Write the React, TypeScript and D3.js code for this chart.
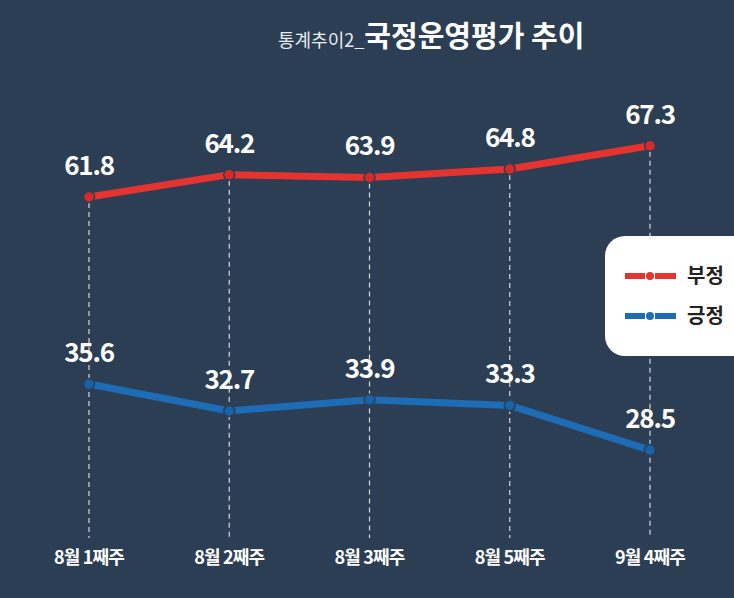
import React from "react";
import * as d3 from "d3";

const categories = ["8월 1째주", "8월 2째주", "8월 3째주", "8월 5째주", "9월 4째주"];
const negativeValues = [61.8, 64.2, 63.9, 64.8, 67.3]; // 부정
const positiveValues = [35.6, 32.7, 33.9, 33.3, 28.5]; // 긍정
const seriesNames = ["부정", "긍정"];
const titleSmall = "통계추이2_";
const titleLarge = "국정운영평가 추이";

const W = 734;
const H = 598;
const BG = "#2c3e54";
const RED = "#e5332f";
const BLUE = "#1d6db6";
const FONT = "'Noto Sans CJK KR', 'Noto Sans', sans-serif";

export default function App() {
  const x = d3.scalePoint<string>().domain(categories).range([89, 650]);
  // broken axis: two panels with the same px per unit
  const yTop = d3.scaleLinear().domain([60, 70]).range([213.7, 120.7]);
  const yBot = d3.scaleLinear().domain([25, 40]).range([482.6, 343.1]);

  const series = [
    { name: seriesNames[0], values: negativeValues, y: yTop, color: RED, dot: "#d42a28" },
    { name: seriesNames[1], values: positiveValues, y: yBot, color: BLUE, dot: "#1a62a6" },
  ];

  const gridBottom = 538;

  return (
    <svg width={W} height={H} style={{ position: "absolute", left: 0, top: 0, display: "block" }}>
      <rect x={0} y={0} width={W} height={H} fill={BG} />
      {/* title */}
      <text x={278} y={47} fontFamily={FONT} fill="#e8ecf0">
        <tspan fontSize={18} fontWeight={400}>{titleSmall}</tspan>
        <tspan fontSize={29} fontWeight={700} fill="#ffffff">{titleLarge}</tspan>
      </text>

      {/* dashed guides */}
      {categories.map((c, i) => (
        <line
          key={"g" + c}
          x1={x(c)}
          x2={x(c)}
          y1={yTop(negativeValues[i]) + 6}
          y2={gridBottom}
          stroke="rgba(255,255,255,0.8)"
          strokeWidth={1.2}
          strokeDasharray="5,4"
        />
      ))}

      {/* legend box */}
      <g>
        <rect x={605} y={236} width={160} height={120} rx={20} ry={20} fill="#ffffff" />
        {series.map((s, i) => {
          const ly = 276 + i * 40;
          return (
            <g key={"lg" + s.name}>
              <rect x={625} y={ly - 3} width={20} height={6} fill={s.color} />
              <rect x={655} y={ly - 3} width={21} height={6} fill={s.color} />
              <circle cx={650} cy={ly} r={4} fill={s.color} />
              <text
                x={687}
                y={ly + 7}
                fontFamily={FONT}
                fontSize={20}
                fontWeight={700}
                fill="#222222"
              >
                {s.name}
              </text>
            </g>
          );
        })}
      </g>

      {/* lines */}
      {series.map((s) => {
        const line = d3
          .line<number>()
          .x((_, i) => x(categories[i]) as number)
          .y((v) => s.y(v));
        return (
          <g key={"s" + s.name}>
            <path
              d={line(s.values) || ""}
              fill="none"
              stroke={s.color}
              strokeWidth={7}
              strokeLinejoin="round"
            />
            {s.values.map((v, i) => (
              <circle
                key={i}
                cx={x(categories[i])}
                cy={s.y(v)}
                r={5.5}
                fill={s.dot}
                stroke={BG}
                strokeWidth={1.5}
              />
            ))}
            {s.values.map((v, i) => (
              <text
                key={"t" + i}
                x={x(categories[i])}
                y={s.y(v) - 22}
                textAnchor="middle"
                fontFamily={FONT}
                fontSize={26}
                fontWeight={600}
                letterSpacing={-1.2}
                fill="#ffffff"
              >
                {v.toFixed(1)}
              </text>
            ))}
          </g>
        );
      })}

      {/* x labels */}
      {categories.map((c) => (
        <text
          key={"x" + c}
          x={x(c)}
          y={564}
          textAnchor="middle"
          fontFamily={FONT}
          fontSize={18}
          fontWeight={700}
          letterSpacing={-0.8}
          fill="#ffffff"
        >
          {c}
        </text>
      ))}
    </svg>
  );
}
